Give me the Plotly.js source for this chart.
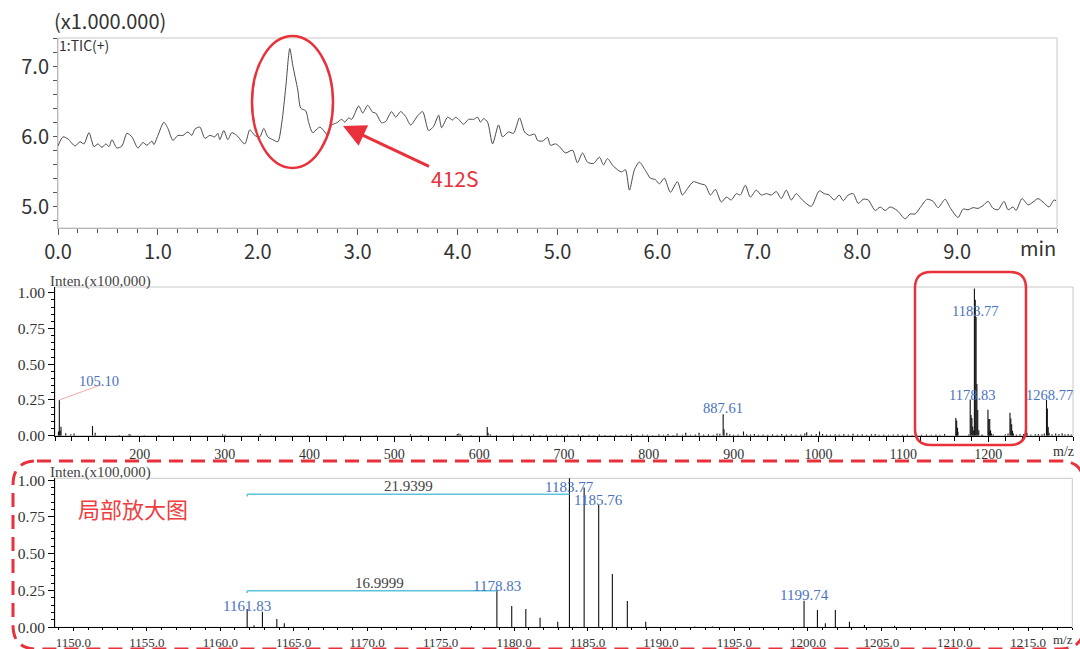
<!DOCTYPE html>
<html>
<head>
<meta charset="utf-8">
<script src="https://cdn.plot.ly/plotly-3.0.1.min.js"></script>
<style>
  html, body { margin: 0; padding: 0; background: #fff; }
  #chart { width: 1080px; height: 649px; }
</style>
</head>
<body>
<div id="chart"></div>
<script>
// ---- TIC chromatogram (retention time in min, signal in x1,000,000) ----
const ticTime = [
  0.00, 0.05, 0.10, 0.17, 0.22, 0.26, 0.31, 0.36, 0.40, 0.44, 0.48, 0.51, 0.54, 0.59, 0.64, 0.69, 0.74, 0.80, 0.85, 0.89,
  0.94, 0.96, 1.00, 1.06, 1.10, 1.15, 1.20, 1.25, 1.30, 1.34, 1.37, 1.42, 1.47, 1.52, 1.57, 1.60, 1.62, 1.66, 1.70, 1.74,
  1.79, 1.87, 1.92, 1.97, 2.02, 2.06, 2.10, 2.15, 2.20, 2.24, 2.28, 2.32, 2.35, 2.40, 2.43, 2.48, 2.51, 2.55, 2.62, 2.67,
  2.70, 2.74, 2.79, 2.84, 2.87, 2.91, 2.94, 3.01, 3.05, 3.10, 3.15, 3.18, 3.24, 3.28, 3.34, 3.38, 3.43, 3.48, 3.53, 3.60,
  3.65, 3.71, 3.76, 3.81, 3.84, 3.90, 3.95, 3.98, 4.01, 4.06, 4.11, 4.16, 4.20, 4.23, 4.26, 4.30, 4.35, 4.41, 4.45, 4.51,
  4.56, 4.62, 4.67, 4.72, 4.77, 4.80, 4.85, 4.90, 4.93, 4.98, 5.02, 5.08, 5.15, 5.20, 5.25, 5.30, 5.36, 5.42, 5.46, 5.50,
  5.56, 5.64, 5.68, 5.72, 5.77, 5.82, 5.88, 5.93, 5.98, 6.02, 6.07, 6.13, 6.20, 6.25, 6.30, 6.36, 6.43, 6.48, 6.53, 6.58,
  6.64, 6.69, 6.74, 6.79, 6.83, 6.88, 6.93, 6.99, 7.04, 7.09, 7.14, 7.19, 7.24, 7.29, 7.34, 7.39, 7.45, 7.54, 7.62, 7.67,
  7.72, 7.77, 7.82, 7.86, 7.91, 7.96, 8.01, 8.06, 8.11, 8.18, 8.23, 8.28, 8.33, 8.40, 8.48, 8.53, 8.58, 8.63, 8.70, 8.76,
  8.81, 8.88, 8.93, 9.01, 9.06, 9.11, 9.16, 9.21, 9.26, 9.31, 9.36, 9.41, 9.47, 9.51, 9.56, 9.59, 9.65, 9.71, 9.76, 9.81,
  9.86, 9.92, 9.97, 9.99
];
const ticSignal = [
  5.87, 6.00, 5.97, 5.87, 5.93, 5.90, 6.06, 5.86, 5.90, 5.85, 5.90, 5.86, 5.96, 5.84, 5.87, 6.05, 6.00, 5.84, 5.92, 5.88,
  5.94, 5.89, 6.02, 6.21, 6.12, 5.95, 6.02, 6.02, 6.07, 6.02, 6.11, 6.14, 5.98, 6.02, 6.00, 6.05, 5.96, 6.09, 5.96, 6.06,
  6.02, 5.90, 6.10, 6.02, 6.00, 6.12, 6.00, 5.96, 5.93, 6.20, 6.71, 7.26, 7.02, 6.67, 6.41, 6.37, 6.20, 6.06, 6.14, 6.07,
  6.02, 6.17, 6.20, 6.25, 6.21, 6.27, 6.25, 6.44, 6.34, 6.45, 6.35, 6.34, 6.20, 6.22, 6.36, 6.28, 6.36, 6.29, 6.17, 6.30,
  6.36, 6.09, 6.15, 6.31, 6.13, 6.28, 6.24, 6.28, 6.25, 6.18, 6.25, 6.25, 6.28, 6.21, 6.26, 6.21, 5.90, 6.17, 6.00, 6.07,
  6.05, 6.27, 6.07, 6.02, 6.04, 5.95, 5.94, 5.99, 5.88, 5.90, 5.86, 5.77, 5.81, 5.63, 5.77, 5.64, 5.62, 5.71, 5.60, 5.69,
  5.58, 5.50, 5.53, 5.24, 5.53, 5.64, 5.52, 5.41, 5.39, 5.33, 5.41, 5.21, 5.36, 5.17, 5.26, 5.36, 5.33, 5.31, 5.17, 5.25,
  5.07, 5.14, 5.10, 5.19, 5.17, 5.31, 5.14, 5.24, 5.17, 5.19, 5.17, 5.22, 5.12, 5.24, 5.10, 5.19, 5.10, 5.01, 5.23, 5.19,
  5.17, 5.10, 5.17, 5.09, 5.17, 5.19, 5.05, 5.11, 5.10, 4.95, 5.00, 4.95, 5.00, 4.95, 4.83, 4.90, 4.90, 4.99, 5.11, 5.08,
  4.99, 5.11, 4.99, 4.85, 4.97, 4.96, 4.99, 4.98, 5.02, 5.08, 4.98, 4.96, 5.08, 4.96, 5.00, 4.95, 5.12, 5.03, 5.07, 5.12,
  5.07, 5.00, 5.10, 5.09
];

// ---- Mass spectrum (m/z, intensity in x100,000) ----
const specMz = [
  104.1, 105.10, 106.1, 107.1, 112.7, 118.6, 122.5, 144.2, 147.3, 160.4, 175.8, 187.4, 189.1, 205.3, 222.6, 258.9,
  297.5, 300.5, 342.0, 355.2, 398.1, 419.7, 442.3, 478.6, 519.0, 531.4, 574.2, 576.1, 578.3, 590.6, 609.5, 610.5,
  613.2, 620.4, 640.1,
  650.2, 658.7, 664.1, 671.5, 679.3, 684.8, 691.2, 697.6, 703.9, 710.4, 716.8, 722.3, 729.5, 735.1, 741.7, 748.2,
  754.6, 760.9, 767.3, 773.8, 779.4, 786.1, 792.7, 798.2, 804.5, 811.9, 817.3, 822.6, 828.4, 833.2, 839.7, 843.5,
  849.1, 854.8, 859.2, 864.6, 870.3, 875.9, 880.4, 883.7, 887.61, 888.6, 891.9, 895.4, 899.8, 905.2, 911.6, 915.3,
  919.8, 924.4, 929.1, 934.7, 940.2, 945.8, 951.3, 956.6, 962.1, 967.9, 973.4, 979.2, 983.8, 986.1, 991.7, 997.3,
  1001.2, 1004.8, 1009.5, 1014.1, 1019.6, 1024.3, 1029.8, 1035.2, 1040.7, 1046.1, 1051.5, 1056.9, 1062.4, 1066.8,
  1071.3, 1076.9, 1082.5, 1088.2, 1093.6, 1099.1, 1104.7, 1110.3, 1115.8, 1121.4, 1127.2, 1132.9, 1138.5, 1143.1,
  1148.6,
  1161.8301, 1162.3, 1162.87, 1163.85, 1164.36, 1177.1, 1178.83, 1179.84, 1180.80, 1181.77, 1182.97, 1183.77,
  1184.77, 1185.76, 1186.69, 1187.71, 1188.96, 1192.3, 1193.5, 1199.74, 1200.65, 1201.19, 1201.87, 1202.83,
  1203.85, 1205.9,
  1220.1, 1223.4, 1225.7, 1226.7, 1227.7, 1228.7, 1229.7, 1233.2, 1237.5, 1241.8, 1244.8, 1245.8, 1250.3, 1255.6,
  1259.2, 1263.4, 1266.2, 1268.77, 1269.77, 1270.77, 1271.8, 1275.3, 1279.6, 1283.4, 1287.2, 1290.5, 1294.3, 1297.8
];
const specInt = [
  0.030, 0.250, 0.035, 0.063, 0.017, 0.010, 0.015, 0.068, 0.020, 0.004, 0.005, 0.012, 0.006, 0.004, 0.005, 0.004,
  0.010, 0.006, 0.012, 0.004, 0.005, 0.004, 0.005, 0.004, 0.010, 0.005, 0.012, 0.015, 0.008, 0.005, 0.060, 0.020,
  0.010, 0.005, 0.006,
  0.006, 0.004, 0.008, 0.005, 0.006, 0.004, 0.007, 0.005, 0.006, 0.004, 0.008, 0.005, 0.006, 0.004, 0.009, 0.005,
  0.004, 0.007, 0.005, 0.006, 0.012, 0.005, 0.008, 0.006, 0.004, 0.010, 0.006, 0.012, 0.005, 0.015, 0.006, 0.020,
  0.007, 0.009, 0.020, 0.008, 0.011, 0.006, 0.015, 0.013, 0.150, 0.045, 0.020, 0.010, 0.007, 0.009, 0.030, 0.010,
  0.008, 0.012, 0.007, 0.009, 0.006, 0.010, 0.007, 0.012, 0.008, 0.011, 0.006, 0.009, 0.015, 0.025, 0.008, 0.012,
  0.030, 0.012, 0.009, 0.007, 0.011, 0.008, 0.012, 0.009, 0.013, 0.008, 0.011, 0.007, 0.010, 0.012,
  0.006, 0.009, 0.007, 0.008, 0.011, 0.006, 0.008, 0.005, 0.007, 0.006, 0.008, 0.006, 0.009, 0.007,
  0.012,
  0.124, 0.014, 0.106, 0.056, 0.027, 0.008, 0.253, 0.145, 0.124, 0.065, 0.038, 1.030,
  0.950, 0.830, 0.362, 0.179, 0.038, 0.006, 0.006, 0.181, 0.117, 0.027, 0.117, 0.038,
  0.016, 0.010,
  0.010, 0.015, 0.160, 0.120, 0.080, 0.035, 0.015, 0.008, 0.010, 0.012, 0.070, 0.020, 0.008, 0.010,
  0.012, 0.010, 0.015, 0.250, 0.190, 0.060, 0.020, 0.010, 0.015, 0.012, 0.018, 0.010, 0.012, 0.008
];

// Peaks that carry an m/z label
const fullScanLabels = [105.10, 887.61, 1178.83, 1183.77, 1268.77];
const zoomLabels = [1161.8301, 1178.83, 1183.77, 1185.76, 1199.74];
// Mass differences marked in the enlarged view: [from, to]
const massDiffPairs = [[1161.8301, 1183.77], [1161.8301, 1178.83]];

// ---- page geometry helpers (pixel -> paper) ----
const W = 1080, H = 649;
const px = x => x / W;
const py = y => 1 - y / H;

const RED = '#e8313a';
const BLUE = '#4a72c0';
const CYAN = '#5cc3da';
const SANS = 'Noto Sans CJK SC, Noto Sans, sans-serif';
const SERIF = 'Liberation Serif, serif';

const intAt = m => specInt[specMz.indexOf(m)];

function sticks(lo, hi) {
  const x = [], y = [];
  specMz.forEach((m, i) => {
    if (m >= lo && m <= hi) { x.push(m, m, null); y.push(0, specInt[i], null); }
  });
  return { x, y };
}

function roundRect(x0, y0, x1, y1, r) {
  const P = (x, y) => px(x) + ',' + py(y);
  return 'M' + P(x0 + r, y0) + ' L' + P(x1 - r, y0) + ' Q' + P(x1, y0) + ' ' + P(x1, y0 + r) +
         ' L' + P(x1, y1 - r) + ' Q' + P(x1, y1) + ' ' + P(x1 - r, y1) +
         ' L' + P(x0 + r, y1) + ' Q' + P(x0, y1) + ' ' + P(x0, y1 - r) +
         ' L' + P(x0, y0 + r) + ' Q' + P(x0, y0) + ' ' + P(x0 + r, y0) + ' Z';
}

// subplot boxes in pixels
const boxTop = { l: 58, r: 1057, t: 38, b: 228 };
const boxMid = { l: 55, r: 1073, t: 287, b: 435.7 };
const boxBot = { l: 55, r: 1072.3, t: 478.3, b: 627.3 };

const midRange = [100, 1300];
const botRange = [1148.75, 1218.0];

const full = sticks(midRange[0], midRange[1]);
const zoom = sticks(botRange[0], botRange[1]);

const traces = [
  { x: ticTime, y: ticSignal, xaxis: 'x', yaxis: 'y', type: 'scatter', mode: 'lines',
    line: { color: '#4a4a4a', width: 1, shape: 'spline', smoothing: 0.7 } },
  { x: full.x, y: full.y, xaxis: 'x2', yaxis: 'y2', type: 'scatter', mode: 'lines',
    line: { color: '#111', width: 1.1 }, connectgaps: false },
  { x: zoom.x, y: zoom.y, xaxis: 'x3', yaxis: 'y3', type: 'scatter', mode: 'lines',
    line: { color: '#111', width: 1.1 }, connectgaps: false }
];

const fmt = (d) => (v => v.toFixed(d));
const seq = (a, b, s) => { const o = []; for (let v = a; v <= b + 1e-9; v += s) o.push(+v.toFixed(6)); return o; };

const topXT = seq(0, 9, 1), topYT = [5, 6, 7];
const midXT = seq(200, 1200, 100), intT = [0, 0.25, 0.5, 0.75, 1.0];
const botXT = seq(1150, 1215, 5);

const layout = {
  width: W, height: H,
  margin: { l: 0, r: 0, t: 0, b: 0 },
  paper_bgcolor: '#fff', plot_bgcolor: '#fff',
  showlegend: false, hovermode: false,
  // chromatogram
  xaxis: {
    domain: [px(boxTop.l), px(boxTop.r)], range: [0, 10], anchor: 'y',
    tickmode: 'array', tickvals: topXT, ticktext: topXT.map(fmt(1)),
    ticks: 'outside', ticklen: 6, tickcolor: '#555', tickwidth: 1,
    minor: { tickmode: 'linear', tick0: 0, dtick: 0.2, ticks: 'outside', ticklen: 4, tickcolor: '#555' },
    showline: true, linecolor: '#b8b8b8', showgrid: false, zeroline: false,
    tickfont: { family: SANS, size: 20, color: '#333' }
  },
  yaxis: {
    domain: [py(boxTop.b), py(boxTop.t)], range: [4.70, 7.41], anchor: 'x',
    tickmode: 'array', tickvals: topYT, ticktext: topYT.map(fmt(1)),
    ticks: 'outside', ticklen: 4, tickcolor: '#555',
    minor: { tickmode: 'linear', tick0: 5, dtick: 0.2, ticks: 'outside', ticklen: 4, tickcolor: '#555' },
    showline: true, linecolor: '#b8b8b8', showgrid: false, zeroline: false,
    tickfont: { family: SANS, size: 20, color: '#333' }
  },
  // full scan
  xaxis2: {
    domain: [px(boxMid.l), px(boxMid.r)], range: midRange, anchor: 'y2',
    tickmode: 'array', tickvals: midXT, ticktext: midXT.map(String),
    ticks: 'outside', ticklen: 5, tickcolor: '#000',
    minor: { tickmode: 'linear', tick0: 100, dtick: 20, ticks: 'outside', ticklen: 4, tickcolor: '#000' },
    showline: true, linecolor: '#000', showgrid: false, zeroline: false,
    tickfont: { family: SERIF, size: 14, color: '#333' }
  },
  yaxis2: {
    domain: [py(boxMid.b), py(boxMid.t)], range: [0, 1.04], anchor: 'x2',
    tickmode: 'array', tickvals: intT, ticktext: intT.map(fmt(2)),
    ticks: 'outside', ticklen: 6, tickcolor: '#000',
    minor: { tickmode: 'linear', tick0: 0, dtick: 0.05, ticks: 'outside', ticklen: 3, tickcolor: '#000' },
    showline: true, linecolor: '#000', showgrid: false, zeroline: false,
    tickfont: { family: SERIF, size: 15.5, color: '#333' }
  },
  // enlarged view
  xaxis3: {
    domain: [px(boxBot.l), px(boxBot.r)], range: botRange, anchor: 'y3',
    tickmode: 'array', tickvals: botXT, ticktext: botXT.map(fmt(1)),
    ticks: 'outside', ticklen: 3, tickcolor: '#000',
    minor: { tickmode: 'linear', tick0: 1150, dtick: 1, ticks: 'outside', ticklen: 2, tickcolor: '#000' },
    showline: true, linecolor: '#000', showgrid: false, zeroline: false,
    tickfont: { family: SERIF, size: 13, color: '#333' }
  },
  yaxis3: {
    domain: [py(boxBot.b), py(boxBot.t)], range: [0, 1.012], anchor: 'x3',
    tickmode: 'array', tickvals: intT, ticktext: intT.map(fmt(2)),
    ticks: 'outside', ticklen: 6, tickcolor: '#000',
    minor: { tickmode: 'linear', tick0: 0, dtick: 0.05, ticks: 'outside', ticklen: 3, tickcolor: '#000' },
    showline: true, linecolor: '#000', showgrid: false, zeroline: false,
    tickfont: { family: SERIF, size: 15.5, color: '#333' }
  },
  shapes: [],
  annotations: []
};

// light frames round the three plot areas
[boxTop, boxMid, boxBot].forEach(b => {
  layout.shapes.push({ type: 'rect', xref: 'paper', yref: 'paper', layer: 'below',
    x0: px(b.l), x1: px(b.r), y0: py(b.b), y1: py(b.t), line: { color: '#c8c8c8', width: 1 } });
});

const A = layout.annotations;
const txt = (x, y, text, font, extra) => A.push(Object.assign({ xref: 'paper', yref: 'paper', x: px(x), y: py(y),
  text, showarrow: false, font, xanchor: 'center', yanchor: 'middle' }, extra || {}));

// chromatogram texts
txt(52, 21, '(x1.000.000)', { family: SANS, size: 20, color: '#333' }, { xanchor: 'left' });
txt(57, 45, '1:TIC(+)', { family: SANS, size: 14, color: '#333' }, { xanchor: 'left' });
txt(1038, 247, 'min', { family: SANS, size: 20, color: '#333' });

// highlighted peak and arrow
layout.shapes.push({ type: 'circle', xref: 'paper', yref: 'paper',
  x0: px(252), x1: px(333), y0: py(168), y1: py(36), line: { color: RED, width: 2.5 } });
A.push({ xref: 'paper', yref: 'paper', x: px(343), y: py(126), ax: 111, ay: 52,
  axref: 'pixel', ayref: 'pixel', text: '412S', showarrow: true,
  arrowhead: 2, arrowsize: 1.5, arrowwidth: 3, arrowcolor: RED,
  font: { family: SANS, size: 21, color: RED } });

// spectrum headings and axis names
txt(48, 281, 'Inten.(x100,000)', { family: SERIF, size: 15, color: '#444' }, { xanchor: 'left' });
txt(48, 472, 'Inten.(x100,000)', { family: SERIF, size: 15, color: '#444' }, { xanchor: 'left' });
txt(1063, 451, 'm/z', { family: SERIF, size: 14, color: '#333' });
txt(1063, 639, 'm/z', { family: SERIF, size: 13, color: '#333' });

// full-scan peak labels (x from the peak, vertical placement in pixels)
const fullLabelPos = { '105.1': [40, 381], '887.61': [0, 408], '1178.83': [2, 395], '1183.77': [1, 311], '1268.77': [3, 395] };
fullScanLabels.forEach(m => {
  const p = fullLabelPos[String(m)];
  A.push({ xref: 'x2', yref: 'paper', x: m, y: py(p[1]), xshift: p[0], text: m.toFixed(2), showarrow: false,
    xanchor: 'center', yanchor: 'middle', font: { family: SERIF, size: 14.5, color: BLUE } });
});
// leader from the 105.10 peak to its label
layout.shapes.push({ type: 'line', xref: 'x2', yref: 'y2', x0: fullScanLabels[0], y0: intAt(fullScanLabels[0]),
  x1: 154, y1: 0.355, line: { color: '#f4a8a8', width: 1 } });

// enlarged-view peak labels
const zoomLabelPos = { '1161.8301': [0, 606], '1178.83': [0, 586], '1183.77': [0, 487], '1185.76': [0, 500], '1199.74': [0, 595] };
zoomLabels.forEach(m => {
  const p = zoomLabelPos[String(m)];
  A.push({ xref: 'x3', yref: 'paper', x: m, y: py(p[1]), xshift: p[0], text: m.toFixed(2), showarrow: false,
    xanchor: 'center', yanchor: 'middle', font: { family: SERIF, size: 15, color: BLUE } });
});

// mass-difference brackets
const bracketLevels = [0.903, 0.248];
massDiffPairs.forEach((pr, i) => {
  const lv = bracketLevels[i];
  layout.shapes.push({ type: 'line', xref: 'x3', yref: 'y3', x0: pr[0], x1: pr[1], y0: lv, y1: lv,
    line: { color: CYAN, width: 1.5 } });
  layout.shapes.push({ type: 'line', xref: 'x3', yref: 'y3', x0: pr[0], x1: pr[0], y0: lv - 0.015, y1: lv,
    line: { color: CYAN, width: 1.5 } });
  A.push({ xref: 'x3', yref: 'y3', x: (pr[0] + pr[1]) / 2, y: lv, text: (pr[1] - pr[0]).toFixed(4),
    showarrow: false, xanchor: 'center', yanchor: 'bottom', yshift: -2, xshift: i === 1 ? 7 : 0,
    font: { family: SERIF, size: 15, color: '#444' } });
});

// boxes marking the enlarged region
layout.shapes.push({ type: 'path', xref: 'paper', yref: 'paper', path: roundRect(915, 272, 1026, 445, 16),
  line: { color: RED, width: 2.5 } });
layout.shapes.push({ type: 'path', xref: 'paper', yref: 'paper', path: roundRect(13, 461, 1084, 649, 24),
  line: { color: RED, width: 3, dash: '14px,8px' } });
txt(133, 508, '局部放大图', { family: 'Noto Sans CJK SC, sans-serif', size: 22, color: '#ef3e3e' });

Plotly.newPlot('chart', traces, layout, { staticPlot: true, displayModeBar: false });
</script>
</body>
</html>
